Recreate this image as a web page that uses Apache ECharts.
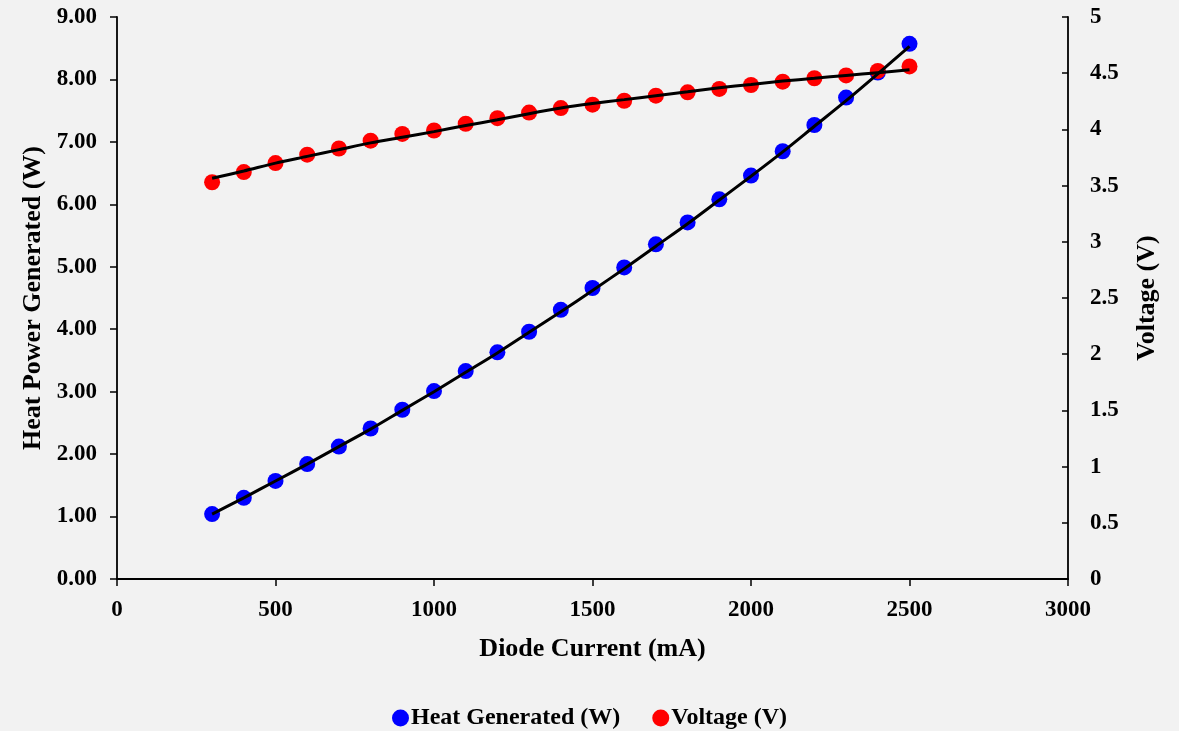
<!DOCTYPE html>
<html>
<head>
<meta charset="utf-8">
<script src="https://cdn.jsdelivr.net/npm/echarts@6/dist/echarts.min.js"></script>
<style>
html,body{margin:0;padding:0;background:#f2f2f2;}
#chart{width:1179px;height:731px;}
</style>
</head>
<body>
<div id="chart"></div>
<script>
const current = [300,400,500,600,700,800,900,1000,1100,1200,1300,1400,1500,1600,1700,1800,1900,2000,2100,2200,2300,2400,2500];
const heatGenerated = [1.04,1.30,1.57,1.84,2.12,2.41,2.71,3.01,3.33,3.63,3.96,4.31,4.66,4.99,5.36,5.71,6.08,6.46,6.85,7.27,7.71,8.11,8.57];
const voltage = [3.53,3.62,3.70,3.775,3.83,3.90,3.96,3.99,4.05,4.10,4.15,4.19,4.22,4.255,4.30,4.33,4.36,4.395,4.425,4.455,4.48,4.52,4.56];
const heatTrend = [1.04,1.30,1.57,1.84,2.12,2.40,2.70,3.00,3.31,3.62,3.95,4.28,4.62,4.97,5.33,5.69,6.07,6.45,6.84,7.25,7.66,8.09,8.53];
const voltageTrend = [3.565,3.63,3.70,3.76,3.82,3.88,3.93,3.98,4.035,4.085,4.14,4.19,4.23,4.265,4.30,4.335,4.37,4.40,4.43,4.455,4.48,4.505,4.53];
const xTicks = {min:0, max:3000, interval:500};
const leftTicks = {min:0, max:9, interval:1};
const rightTicks = {min:0, max:5, interval:0.5};

const pairs = (xs, ys) => xs.map((x,i)=>[x, ys[i]]);
const FONT = "'Liberation Serif','Times New Roman',serif";
const axisLine = {show:true, lineStyle:{color:'#000', width:1.8}};

const chart = echarts.init(document.getElementById('chart'));
chart.setOption({
  backgroundColor:'#f2f2f2',
  animation:false,
  textStyle:{fontFamily:FONT, fontWeight:'bold', color:'#000'},
  grid:{left:117, right:111, top:17, bottom:152, containLabel:false},
  legend:{
    top:701, left:'center', itemGap:32, itemWidth:17, itemHeight:17,
    data:[{name:'Heat Generated (W)', icon:'circle'},{name:'Voltage (V)', icon:'circle'}],
    textStyle:{fontFamily:FONT, fontWeight:'bold', fontSize:24, color:'#000', padding:[0,0,0,-3]}
  },
  xAxis:{
    type:'value', min:xTicks.min, max:xTicks.max, interval:xTicks.interval,
    name:'Diode Current (mA)', nameLocation:'middle', nameGap:57,
    nameTextStyle:{fontFamily:FONT, fontWeight:'bold', fontSize:26, color:'#000'},
    axisLine:axisLine, axisTick:{show:true, inside:false, length:7, lineStyle:{color:'#000', width:1.5}},
    axisLabel:{fontFamily:FONT, fontWeight:'bold', fontSize:23, color:'#000', margin:20, formatter:v=>String(v)},
    splitLine:{show:false}
  },
  yAxis:[{
    type:'value', position:'left', min:leftTicks.min, max:leftTicks.max, interval:leftTicks.interval,
    name:'Heat Power Generated (W)', nameLocation:'middle', nameGap:67, nameRotate:90,
    nameTextStyle:{fontFamily:FONT, fontWeight:'bold', fontSize:26, color:'#000'},
    axisLine:axisLine, axisTick:{show:true, inside:false, length:7, lineStyle:{color:'#000', width:1.5}},
    axisLabel:{fontFamily:FONT, fontWeight:'bold', fontSize:23, color:'#000', margin:20, formatter:v=>v.toFixed(2)},
    splitLine:{show:false}
  },{
    type:'value', position:'right', min:rightTicks.min, max:rightTicks.max, interval:rightTicks.interval,
    name:'Voltage (V)', nameLocation:'middle', nameGap:66, nameRotate:90,
    nameTextStyle:{fontFamily:FONT, fontWeight:'bold', fontSize:26, color:'#000'},
    axisLine:axisLine, axisTick:{show:true, inside:true, length:6, lineStyle:{color:'#000', width:1.5}},
    axisLabel:{fontFamily:FONT, fontWeight:'bold', fontSize:23, color:'#000', margin:22},
    splitLine:{show:false}
  }],
  series:[
    {name:'Heat Generated (W)', type:'scatter', yAxisIndex:0, data:pairs(current, heatGenerated),
     symbol:'circle', symbolSize:16, itemStyle:{color:'#0000ff', opacity:1}, z:2},
    {name:'Voltage (V)', type:'scatter', yAxisIndex:1, data:pairs(current, voltage),
     symbol:'circle', symbolSize:16, itemStyle:{color:'#ff0000', opacity:1}, z:2},
    {name:'heatTrend', type:'line', yAxisIndex:0, data:pairs(current, heatTrend), smooth:0.3,
     showSymbol:false, symbol:'none', lineStyle:{color:'#000', width:3}, z:3, silent:true},
    {name:'voltageTrend', type:'line', yAxisIndex:1, data:pairs(current, voltageTrend), smooth:0.3,
     showSymbol:false, symbol:'none', lineStyle:{color:'#000', width:3}, z:3, silent:true}
  ]
});
</script>
</body>
</html>
